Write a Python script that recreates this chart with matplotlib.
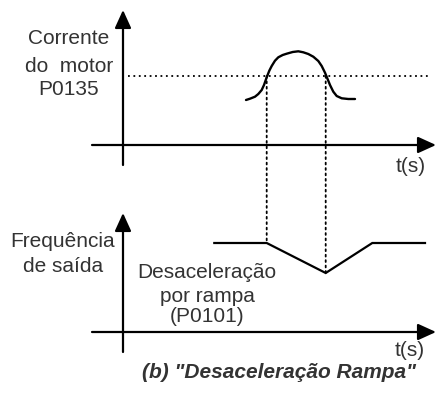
import numpy as np
import matplotlib.pyplot as plt
from matplotlib.patches import ConnectionPatch

plt.rcParams['font.family'] = ['Liberation Sans', 'DejaVu Sans']

# corrente do motor (curva em forma de sino)
t_corr = [12.3, 12.7, 13.2, 13.53, 13.87, 14.1, 14.37, 14.63, 14.87, 15.2, 15.53, 15.97, 16.37, 16.97,
          17.53, 18.03, 18.53, 19.03, 19.53, 19.87, 20.2, 20.43, 20.7, 21.03, 21.37, 21.87, 22.53, 23.2]
i_corr = [4.5, 4.63, 4.83, 5.1, 5.5, 6.0, 6.77, 7.43, 7.9, 8.43, 8.77, 9.0, 9.13, 9.3,
          9.37, 9.27, 9.1, 8.83, 8.4, 7.9, 7.23, 6.67, 6.0, 5.33, 4.9, 4.67, 4.6, 4.6]
limite = 6.9  # P0135

# frequencia de saida (rampa)
t_freq = [9.13, 14.37, 20.27, 24.93, 30.2]
f_freq = [8.9, 8.9, 5.9, 8.9, 8.9]

lbl_corr = ["Corrente", "do  motor", "P0135"]
lbl_freq = ["Frequência", "de saída"]
lbl_rampa = ["Desaceleração", "por rampa", "(P0101)"]
titulo = '(b) "Desaceleração Rampa"'

txt_color = "#333333"
fs = 15
pontilhado = (0, (1.0, 2.0))

fig = plt.figure(figsize=(4.36, 3.96), dpi=100)
ax1 = fig.add_axes([0, 196 / 396, 1, 200 / 396])
ax2 = fig.add_axes([0, 0, 1, 196 / 396])
ax1.set_xlim(-12.3, 31.3)
ax1.set_ylim(-5.5, 14.5)
ax2.set_xlim(-12.3, 31.3)
ax2.set_ylim(-6.4, 13.2)
for ax in (ax1, ax2):
    ax.axis("off")

arrow = dict(arrowstyle="-|>,head_length=0.55,head_width=0.25", lw=1.6,
             color="black", mutation_scale=20, shrinkA=0, shrinkB=0)


def eixos(ax, ytop):
    ax.annotate("", xy=(31.3, 0), xytext=(-3.1, 0), arrowprops=arrow)
    ax.annotate("", xy=(0, ytop), xytext=(0, -2.0), arrowprops=arrow)


"----- painel superior -----"
eixos(ax1, 13.5)
ax1.plot([0.5, 30.7], [limite, limite], color="black", lw=1.3, ls=pontilhado)
ax1.plot(t_corr, i_corr, color="black", lw=1.7, solid_capstyle="round", solid_joinstyle="round")
for s, yb in zip(lbl_corr, [10.07, 7.33, 5.0]):
    ax1.text(-5.4, yb, s, ha="center", va="baseline", fontsize=fs, color=txt_color)
ax1.text(28.8, -2.7, "t(s)", ha="center", va="baseline", fontsize=fs, color=txt_color)

"----- painel inferior -----"
eixos(ax2, 11.9)
ax2.plot(t_freq, f_freq, color="black", lw=1.6, solid_joinstyle="miter")
for s, yb in zip(lbl_freq, [8.53, 6.03]):
    ax2.text(-6.0, yb, s, ha="center", va="baseline", fontsize=fs, color=txt_color)
for s, yb in zip(lbl_rampa, [5.43, 3.03, 1.0]):
    ax2.text(8.4, yb, s, ha="center", va="baseline", fontsize=fs, color=txt_color)
ax2.text(28.7, -2.4, "t(s)", ha="center", va="baseline", fontsize=fs, color=txt_color)
ax2.text(15.55, -4.6, titulo, ha="center", va="baseline", fontsize=15,
         fontweight="bold", fontstyle="italic", color=txt_color)

# linhas pontilhadas ligando os dois graficos
for idx in (1, 2):
    con = ConnectionPatch(xyA=(t_freq[idx], limite), coordsA=ax1.transData,
                          xyB=(t_freq[idx], f_freq[idx]), coordsB=ax2.transData,
                          color="black", lw=1.3, ls=pontilhado)
    fig.add_artist(con)

fig.savefig("out.png", dpi=100)
